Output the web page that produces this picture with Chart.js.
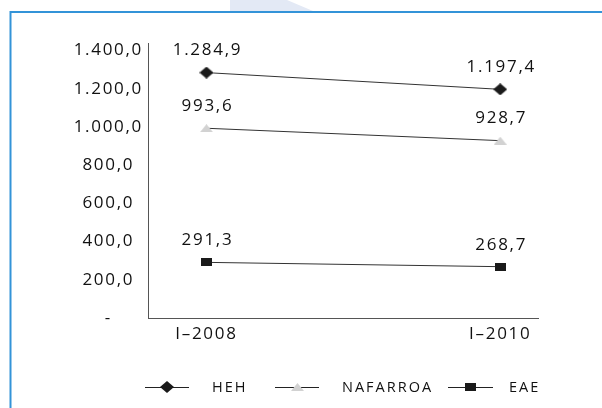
<!DOCTYPE html>
<html>
<head>
<meta charset="utf-8">
<script src="https://cdn.jsdelivr.net/npm/chart.js@4/dist/chart.umd.min.js"></script>
<style>
html,body{margin:0;padding:0;background:#fff;}
#wrap{width:602px;height:408px;position:relative;}
</style>
</head>
<body>
<div id="wrap"><canvas id="c" width="602" height="408"></canvas></div>
<script>
// ---- data ----
const categories = ['I\u20132008', 'I\u20132010'];
const seriesNames = ['HEH', 'NAFARROA', 'EAE'];
const hehValues = [1284.9, 1197.4];
const nafarroaValues = [993.6, 928.7];
const eaeValues = [291.3, 268.7];
const yTicks = [0, 200, 400, 600, 800, 1000, 1200, 1400];

function fmt(v) {
  if (v === 0) return '-';
  const s = v.toFixed(1);
  let [i, d] = s.split('.');
  i = i.replace(/\B(?=(\d{3})+(?!\d))/g, '.');
  return i + ',' + d;
}

function makeMarker(kind) {
  const c = document.createElement('canvas');
  const x = c.getContext('2d');
  if (kind === 'diamond') {
    c.width = 14; c.height = 12;
    x.fillStyle = '#1a1a1a';
    x.beginPath(); x.moveTo(0, 6); x.lineTo(7, 0); x.lineTo(14, 6); x.lineTo(7, 12); x.closePath(); x.fill();
  } else if (kind === 'triangle') {
    c.width = 13; c.height = 8;
    x.fillStyle = '#d2d2d2';
    x.beginPath(); x.moveTo(0, 8); x.lineTo(6.5, 0); x.lineTo(13, 8); x.closePath(); x.fill();
  } else {
    c.width = 11; c.height = 8;
    x.fillStyle = '#1a1a1a';
    x.fillRect(0, 0, 11, 8);
  }
  return c;
}
const markers = [makeMarker('diamond'), makeMarker('triangle'), makeMarker('square')];
const seriesValues = [hehValues, nafarroaValues, eaeValues];

const FONT = '"Open Sans", sans-serif';
const SPACING = '1.7px';
const FSIZE = 17;
const TEXT = '#111';

const spacingPlugin = {
  id: 'spacing',
  beforeUpdate(chart) { chart.ctx.letterSpacing = SPACING; },
  beforeLayout(chart) { chart.ctx.letterSpacing = SPACING; },
  beforeDraw(chart) { chart.ctx.letterSpacing = SPACING; }
};

const framePlugin = {
  id: 'frame',
  beforeDraw(chart) {
    const ctx = chart.ctx;
    ctx.save();
    ctx.fillStyle = '#e3e9f5';
    ctx.beginPath();
    ctx.moveTo(230, 0); ctx.lineTo(287, 0); ctx.lineTo(313, 11); ctx.lineTo(230, 11); ctx.closePath();
    ctx.fill();
    ctx.strokeStyle = '#3393d8';
    ctx.lineWidth = 2;
    ctx.beginPath();
    ctx.moveTo(10.5, 408); ctx.lineTo(10.5, 12); ctx.lineTo(602, 12);
    ctx.stroke();
    ctx.restore();
  }
};

const labelPlugin = {
  id: 'valueLabels',
  afterDatasetsDraw(chart) {
    const ctx = chart.ctx;
    ctx.save();
    ctx.letterSpacing = SPACING;
    ctx.font = FSIZE + 'px ' + FONT;
    ctx.fillStyle = TEXT;
    ctx.textAlign = 'center';
    ctx.textBaseline = 'middle';
    chart.data.datasets.forEach((ds, i) => {
      const meta = chart.getDatasetMeta(i);
      meta.data.forEach((pt, j) => {
        ctx.fillText(fmt(ds.data[j].y), pt.x + 1, pt.y - 22);
      });
    });
    ctx.restore();
  }
};

const legendPlugin = {
  id: 'customLegend',
  afterDraw(chart) {
    const ctx = chart.ctx;
    const y = 387;
    const items = [
      { x0: 145, x1: 189, tx: 212 },
      { x0: 275, x1: 319, tx: 342 },
      { x0: 448, x1: 493, tx: 509 }
    ];
    ctx.save();
    ctx.letterSpacing = '2px';
    ctx.font = '14.5px ' + FONT;
    ctx.textBaseline = 'middle';
    ctx.textAlign = 'left';
    chart.data.datasets.forEach((ds, i) => {
      const it = items[i];
      ctx.strokeStyle = '#222';
      ctx.lineWidth = 1;
      ctx.beginPath();
      ctx.moveTo(it.x0, y + 0.5); ctx.lineTo(it.x1, y + 0.5);
      ctx.stroke();
      const m = ds.pointStyle;
      const cx = (it.x0 + it.x1) / 2;
      ctx.drawImage(m, Math.round(cx - m.width / 2), Math.round(y - m.height / 2));
      ctx.fillStyle = TEXT;
      ctx.fillText(ds.label, it.tx, y + 1);
    });
    ctx.restore();
  }
};

const datasets = seriesNames.map((name, i) => ({
  label: name,
  data: seriesValues[i].map((v, j) => ({ x: j, y: v })),
  borderColor: '#333',
  borderWidth: 1,
  pointStyle: markers[i],
  pointRadius: 6,
  pointHoverRadius: 6,
  fill: false,
  tension: 0
}));

new Chart(document.getElementById('c'), {
  type: 'line',
  data: { datasets },
  plugins: [spacingPlugin, framePlugin, labelPlugin, legendPlugin],
  options: {
    responsive: false,
    animation: false,
    events: [],
    layout: { padding: { left: 20, right: 64, top: 43, bottom: 50 } },
    plugins: { legend: { display: false }, tooltip: { enabled: false } },
    font: { family: FONT },
    scales: {
      x: {
        type: 'linear',
        min: -0.199,
        max: 1.1285,
        grid: { display: false },
        border: { display: true, color: '#555', width: 1 },
        afterBuildTicks(scale) { scale.ticks = categories.map((c, i) => ({ value: i })); },
        afterFit(scale) { scale.height = 40; },
        ticks: {
          autoSkip: false,
          maxRotation: 0,
          padding: -2,
          color: TEXT,
          font: { family: FONT, size: FSIZE },
          callback: (v) => categories[v]
        }
      },
      y: {
        type: 'linear',
        min: 0,
        max: 1440,
        grid: { display: false },
        border: { display: true, color: '#555', width: 1 },
        afterBuildTicks(scale) { scale.ticks = yTicks.map(v => ({ value: v })); },
        afterFit(scale) { scale.width = 128; },
        ticks: {
          autoSkip: false,
          crossAlign: 'center',
          padding: -3,
          color: TEXT,
          font: { family: FONT, size: FSIZE },
          callback: (v) => fmt(v)
        }
      }
    }
  }
});
</script>
</body>
</html>
